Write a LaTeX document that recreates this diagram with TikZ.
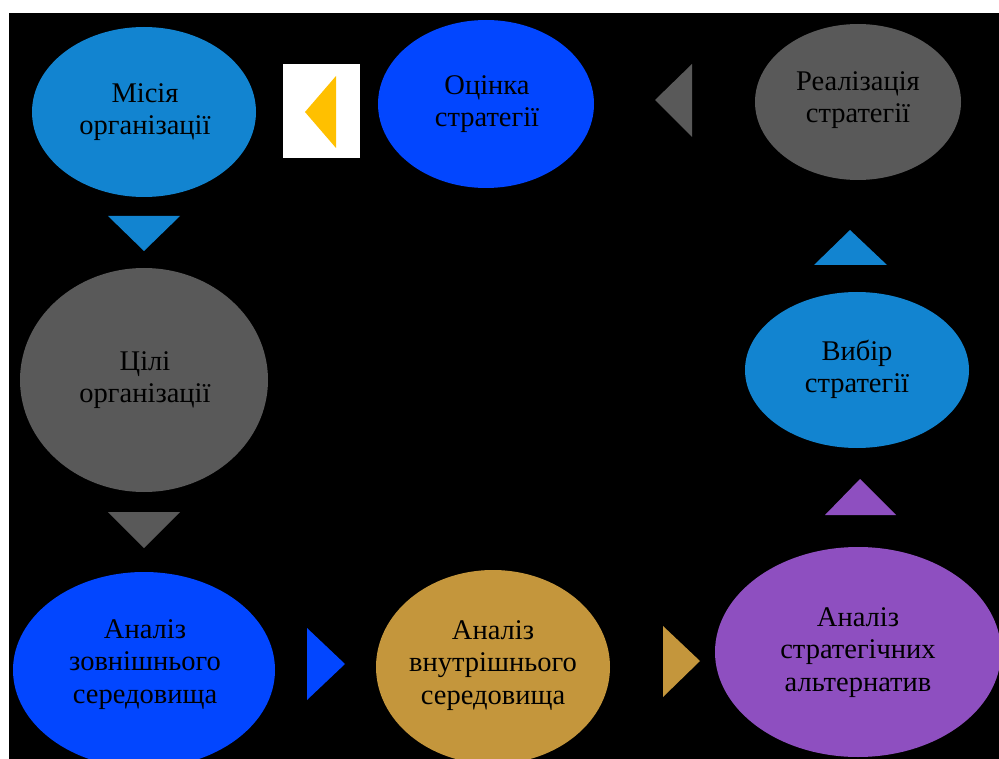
\documentclass[tikz,border=0pt]{standalone}
\usepackage{fontspec}
\setmainfont{Liberation Serif}
\usetikzlibrary{shapes.geometric}
\definecolor{cblue}{HTML}{1284D0}
\definecolor{cdeep}{HTML}{0246FF}
\definecolor{cgray}{HTML}{595959}
\definecolor{cgold}{HTML}{C4963C}
\definecolor{cpurp}{HTML}{8E4FC0}
\definecolor{cyel}{HTML}{FFC000}
\newcommand{\lbl}[1]{\fontsize{28.5}{32.5}\selectfont\begin{tabular}{@{}c@{}}#1\end{tabular}}
\begin{document}
\begin{tikzpicture}[x=1pt,y=-1pt,
  lab/.style={inner sep=0pt,text=black},
  ]
\useasboundingbox (0,0) rectangle (999,759);
\fill[white] (0,0) rectangle (999,759);
\begin{scope}
\clip (9,13) rectangle (999,759);
\fill[black] (9,13) rectangle (999,759);
% ellipses
\fill[cblue] (144,112) ellipse [x radius=112,y radius=85];
\node[lab] (mis) at (145,112) {\lbl{Місія\\організації}};
\fill[cdeep] (486,104) ellipse [x radius=108,y radius=84];
\node[lab] (oc) at (487,104) {\lbl{Оцінка\\стратегії}};
\fill[cgray] (858,102) ellipse [x radius=103,y radius=78];
\node[lab] (real) at (858,100) {\lbl{Реалізація\\стратегії}};
\fill[cblue] (857,370) ellipse [x radius=112,y radius=78];
\node[lab] (vyb) at (857,370) {\lbl{Вибір\\стратегії}};
\fill[cgray] (144,380) ellipse [x radius=124,y radius=112];
\node[lab] (cil) at (145,380) {\lbl{Цілі\\організації}};
\fill[cdeep] (144,670) ellipse [x radius=131,y radius=98];
\node[lab] (zov) at (145,664) {\lbl{Аналіз\\зовнішнього\\середовища}};
\fill[cgold] (493,667) ellipse [x radius=117,y radius=97];
\node[lab] (vn) at (493,665) {\lbl{Аналіз\\внутрішнього\\середовища}};
\fill[cpurp] (858,652) ellipse [x radius=143,y radius=105];
\node[lab] (alt) at (858,652) {\lbl{Аналіз\\стратегічних\\альтернатив}};
% connector triangles
\fill[white] (283,64) rectangle (360,158);
\fill[cyel] (305,112) -- (336,76) -- (336,148) -- cycle;
\fill[cgray] (655,100) -- (692,64) -- (692,137) -- cycle;
\fill[cblue] (108,216) -- (180,216) -- (144,251) -- cycle;
\fill[cgray] (108,512) -- (180,512) -- (144,548) -- cycle;
\fill[cdeep] (307,628) -- (345,664) -- (307,700) -- cycle;
\fill[cgold] (663,626) -- (700,661) -- (663,697) -- cycle;
\fill[cpurp] (825,515) -- (860,479) -- (896,515) -- cycle;
\fill[cblue] (814,265) -- (850,230) -- (887,265) -- cycle;
\end{scope}
\end{tikzpicture}
\end{document}
